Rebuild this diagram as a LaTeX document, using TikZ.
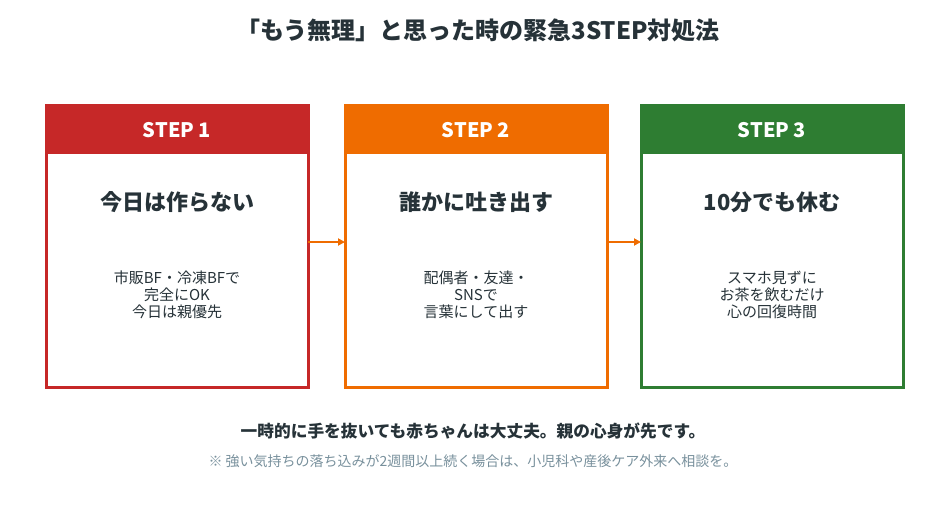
\documentclass[tikz,border=0pt]{standalone}
\usepackage{fontspec}
\setmainfont{Noto Sans CJK JP}
\usetikzlibrary{arrows.meta}
\definecolor{cR}{HTML}{C62828}
\definecolor{cO}{HTML}{EF6C00}
\definecolor{cG}{HTML}{2E7D32}
\definecolor{txt}{HTML}{263238}
\definecolor{note}{HTML}{78909C}
\begin{document}
\begin{tikzpicture}[x=1pt,y=-1pt,
  box/.style={draw=#1,line width=3pt,fill=white},
  head/.style={fill=#1,draw=#1,line width=3pt},
  htxt/.style={text=white,font=\fontsize{20}{24}\selectfont\bfseries},
  ttl/.style={text=txt,font=\fontsize{22}{26}\selectfont\bfseries},
  body/.style={text=txt,font=\fontsize{15}{17}\selectfont,align=center},
  arr/.style={draw=cO,line width=2pt,-{Triangle[length=7pt,width=7pt]}}]
\useasboundingbox (0,0) rectangle (950,505);
\node[text=txt,font=\fontsize{24}{28}\selectfont\bfseries] (title) at (478,30) {「もう無理」と思った時の緊急3STEP対処法};
\foreach \n/\x/\c/\s/\t/\b in {
 1/46/cR/STEP 1/今日は作らない/{市販BF・冷凍BFで\\完全にOK\\今日は親優先},
 2/345/cO/STEP 2/誰かに吐き出す/{配偶者・友達・\\SNSで\\言葉にして出す},
 3/641/cG/STEP 3/10分でも休む/{スマホ見ずに\\お茶を飲むだけ\\心の回復時間}}{
 \draw[box=\c] (\x,106) rectangle ++(262,281);
 \draw[head=\c] (\x,106) rectangle ++(262,47);
 \coordinate (L\n) at (\x,242);
 \coordinate (R\n) at (\x+262,242);
 \node[htxt] (h\n) at (\x+131,130) {\s};
 \node[ttl] (t\n) at (\x+131,202) {\t};
 \node[body] (b\n) at (\x+131,295) {\b};
}
\draw[arr] (R1) -- (L2);
\draw[arr] (R2) -- (L3);
\node[text=txt,font=\fontsize{16.7}{20}\selectfont\bfseries] (msg) at (473,431) {一時的に手を抜いても赤ちゃんは大丈夫。親の心身が先です。};
\node[text=note,font=\fontsize{14}{17}\selectfont] (nt) at (473,461) {※ 強い気持ちの落ち込みが2週間以上続く場合は、小児科や産後ケア外来へ相談を。};
\end{tikzpicture}
\end{document}
